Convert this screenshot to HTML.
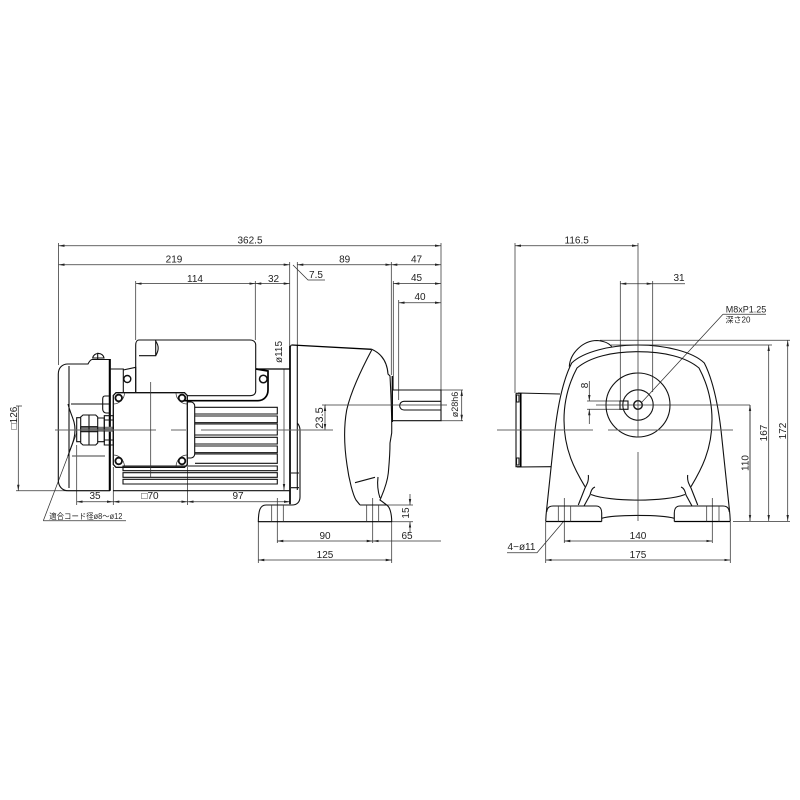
<!DOCTYPE html>
<html><head><meta charset="utf-8">
<style>
html,body{margin:0;padding:0;background:#fff;width:800px;height:800px;overflow:hidden}
svg{display:block}
text{font-family:"Liberation Sans","Noto Sans CJK JP",sans-serif;font-size:10px;fill:#222;text-anchor:middle}
.t{stroke:#111;stroke-width:1.1;fill:none}
.b{stroke:#000;stroke-width:1.7;fill:none}
.d{stroke:#333;stroke-width:.75;fill:none}
.c{stroke:#666;stroke-width:.9;fill:none}
.a{stroke:#333;stroke-width:.75;fill:none;marker-start:url(#ar);marker-end:url(#ar)}
.e{stroke:#333;stroke-width:.75;fill:none;marker-end:url(#ar)}
</style></head><body>
<svg width="800" height="800" viewBox="0 0 800 800" xmlns="http://www.w3.org/2000/svg">
<defs><marker id="ar" markerUnits="userSpaceOnUse" markerWidth="7" markerHeight="4" refX="6" refY="2" orient="auto-start-reverse"><path d="M0 .8L6 2L0 3.2Z" fill="#222"/></marker></defs>

<!-- SIDE VIEW dimensions -->
<path class="a" d="M58.5 245.7H441"/>
<path class="a" d="M58.5 264.7H289.7"/>
<path class="a" d="M297.3 264.7H391.3"/>
<path class="a" d="M391.3 264.7H441"/>
<path class="a" d="M135.7 283.6H255.3"/>
<path class="a" d="M255.3 283.6H289.7"/>
<path class="a" d="M393.3 283.6H441"/>
<path class="a" d="M398.7 302.7H441"/>
<path class="d" d="M58.5 243V365M441 243V390M135.7 281V340M255.3 281V340M289.7 262V369M297.3 262V345M391.3 262V375M393.3 281V390M398.7 300V400"/>
<path class="d" d="M293 265L308 280H325"/>
<text x="174" y="262.500">219</text><text x="250" y="243.500">362.5</text>
<text x="195" y="282">114</text><text x="273.500" y="282">32</text>
<text x="344.700" y="262.500">89</text><text x="416.500" y="262.500">47</text>
<text x="416.500" y="281">45</text><text x="420" y="300">40</text><text x="316" y="278">7.5</text>

<text transform="translate(282 352) rotate(-90)">ø115</text>
<path class="e" d="M284 369V490"/>
<text transform="translate(323 418) rotate(-90)" style="font-size:11px">23.5</text>
<path class="a" d="M325 405V430"/>
<path class="d" d="M322 405H326"/>
<text transform="translate(458 404.500) rotate(-90)" style="font-size:9px">ø28h6</text>
<path class="a" d="M461.700 390V420.700"/>
<path class="d" d="M441 390H463M441 420.700H463"/>
<text transform="translate(17 418) rotate(-90)">□126</text>
<path class="e" d="M18.300 406V490.700"/>
<path class="d" d="M16 406H22M16 490.700H110"/>

<path class="a" d="M76.700 501.700H113"/>
<path class="a" d="M113.300 501.700H187.500"/>
<path class="a" d="M187.500 501.700H290"/>
<path class="d" d="M76.700 445V505M113.300 467V505M187.500 467V505M290 490V505"/>
<text x="95" y="499">35</text><text x="150" y="499">□70</text><text x="238" y="499">97</text>
<path class="d" d="M43.300 520.700L76.700 433M43.300 520.700H126"/>
<text x="85.800" y="519" style="font-size:8px" textLength="73" lengthAdjust="spacingAndGlyphs">適合コード径ø8～ø12</text>

<path class="a" d="M277.300 541H372.700"/>
<path class="a" d="M372.700 541H441" style="marker-end:none"/>
<path class="a" d="M258.300 560H391.700"/>
<path class="d" d="M258.300 521V563M391.700 521V563M277.300 498V543M372.700 498V543"/>
<text x="325" y="539">90</text><text x="407" y="539">65</text><text x="325" y="558">125</text>
<path class="e" d="M410 494V505"/><path class="e" d="M410 533V521.700"/>
<path class="d" d="M386 505H413M392 521.700H413"/>
<text transform="translate(409 513) rotate(-90)">15</text>

<!-- SIDE VIEW motor -->
<path class="t" d="M109.300 359V490.700H68C62 490.700 58.300 486 58.300 480V374C58.300 368 62 364 68 364H88C89 362 90 360 92 359.500H109.300"/>
<path class="t" d="M92.700 358A5.700 5.300 0 0 1 104 358ZM97.700 352.700V359"/>
<path class="b" d="M110 359V490.700"/>
<path class="t" d="M69 366V488M71 404H109M68 404C71 416 75 420 75 430C75 440 71 446 68 456"/>
<path class="c" d="M72 456H105" style="stroke-width:1.300"/>
<path class="t" d="M109 396H105C103.500 396 102.700 397 102.700 399V409C102.700 411 104 413 106 413H109"/>
<path class="t" d="M110 369H123.300V392.700M123.300 370L135.700 367.300V392"/>
<circle class="t" cx="127.300" cy="379" r="3.500" style="stroke-width:1.400"/>
<!-- gland -->
<path d="M80 426.700H113V431.700H80Z" fill="#777"/>
<path class="t" d="M80.700 417.700H76.700V441.700H80.700"/>
<path class="t" d="M83 415H95.700L97.700 417V443L95.700 445H83L80.700 443V417ZM89 415V445M80.700 426.700H97.700M80.700 431.700H97.700"/>
<path class="t" d="M97.700 418H104.300V441.700H97.700"/>
<path class="t" d="M104.300 415.700H113.300V445H104.300ZM104.300 420H113.300M104.300 440H113.300"/>
<!-- terminal box -->
<path class="t" d="M116 392.700H184.500L187.300 395.500V464.500L184.500 467.300H116L113.300 464.500V395.500Z" style="stroke-width:1.300"/>
<path class="d" d="M113.500 404C119 404 124.500 399 124.500 393M187 404C181.500 404 176 399 176 393M113.500 455C119 455 124.500 460 124.500 467M187 455C181.500 455 176 460 176 467"/>
<g fill="#fff" stroke="#111" stroke-width="1.800">
<circle cx="118.700" cy="398" r="3.300"/><circle cx="182" cy="398" r="3.300"/>
<circle cx="118.700" cy="461" r="3.300"/><circle cx="182" cy="461" r="3.300"/>
</g>
<path class="t" d="M187.300 402H191C193 402 194.700 404 194.700 406V454C194.700 456 193 458 191 458H187.300"/>
<!-- top box -->
<path class="t" d="M139 340H250C253.500 340 255.700 342 255.700 345V391C255.700 394 253.500 395.700 250 395.700H187"/>
<path class="t" d="M139 340C137 340 135.700 342 135.700 345V392"/>
<path class="t" d="M139 355.700H155.700V340M155.700 341C159 346 159 350 155.700 355.700"/>
<path class="b" d="M184 400.700H258C264 400.700 268 396 268 390V371L256 369"/>
<circle class="t" cx="263.300" cy="379" r="3.800" style="stroke-width:1.500"/>
<path class="b" d="M256 369H290" style="stroke-width:1.200"/>
<!-- fins -->
<path class="t" d="M195 407.300H277.300V414H195M195 416H277.300V422.700H195M195 424H277.300V435H195M195 437.300H277.300V444H195M195 446H277.300V452.700H195M195 454H277.300V463.300H195"/>
<path class="t" d="M123 466H277.300V470.700H123ZM123 472.700H277.300V477.300H123ZM123 479.300H277.300V484H123Z"/>
<path class="t" d="M113 490.700H289.300"/>
<!-- flange -->
<path class="b" d="M290 346V504"/>
<path class="t" d="M297.300 345V423M297.300 423C299 425 300 427 300 430V497C300 502 297 505 292 505H290M297.300 423V490M291 473H299M291 487.700H299"/>
<!-- gearbox -->
<path class="b" d="M292 345L371.700 349.300" style="stroke-width:1.300"/>
<path class="t" d="M292 345C291 345 290.500 346 290.500 347M371.700 349.300C380 353 387 360 388 374L390 376C391 395 392 415 391.700 433L390 443C390 455 389 465 388.300 473C387 485 382 495 380 500L386.700 505"/>
<path class="t" d="M371.700 350C360 372 350 395 346.700 410C344 425 344 445 347 465C349 480 353 495 356 500L360 505"/>
<path class="t" d="M355 482.700L375 477.300M378 477C377 485 378 492 380 498"/>
<path class="b" d="M392.300 376V422" style="stroke-width:1.300"/>
<path class="t" d="M392.300 390H441V420.700H392.300M404 401.300H441M404 410H441M404 401.300A4.300 4.300 0 0 0 404 410"/>
<!-- base -->
<path class="t" d="M258.300 521.700C258.500 512 259.500 505 266 505H290M360 505H386.700C390 507 391.700 514 391.700 521.700"/>
<path class="b" d="M258.300 521.700H391.700" style="stroke-width:1.200"/>
<path class="d" d="M271.700 505V521.700M283.300 505V521.700M366.700 505V521.700M378.700 505V521.700"/>
<!-- center lines side -->
<path class="c" d="M55 430H156M171 430H186M201 430H333"/>
<path class="d" d="M150.700 382V478M325 405H447"/>

<!-- FRONT VIEW dimensions -->
<path class="a" d="M515 245.700H638"/>
<path class="a" d="M620.300 283.700H652.700"/>
<path class="d" d="M652.700 283.700H685M515 243V393M620.300 281V401M652.700 281V392"/>
<text x="576.700" y="243.500">116.5</text><text x="679" y="281">31</text>
<path class="d" d="M723 314.300H766M723 314.300L642 402"/>
<text x="746" y="312.500" style="font-size:9px">M8xP1.25</text>
<text x="738" y="322.500" style="font-size:8px">深さ20</text>
<path class="d" d="M600 340.300H790M611 345H772"/>
<path class="e" d="M750 405V521"/><path class="e" d="M750 521V405"/>
<path class="a" d="M768.700 345V521"/>
<path class="a" d="M787.700 340.300V521"/>
<path class="d" d="M733 521.500H790"/>
<text transform="translate(748.500 463) rotate(-90)">110</text>
<text transform="translate(767 433) rotate(-90)">167</text>
<text transform="translate(786 431) rotate(-90)">172</text>
<text transform="translate(588 385.500) rotate(-90)">8</text>
<path class="e" d="M589.300 381V401"/><path class="e" d="M589.300 424V409.300"/>
<path class="d" d="M587 401H620M587 409.300H620"/>
<path class="a" d="M564.300 541H712.300"/>
<path class="a" d="M545.700 560H730.300"/>
<path class="d" d="M545.700 522V563M730.300 522V563M564.300 498V543M712.300 498V543"/>
<text x="638" y="539">140</text><text x="638" y="558">175</text>
<path class="d" d="M507 552.700H537L564 521"/>
<text x="521.500" y="550">4−ø11</text>

<!-- FRONT VIEW drawing -->
<path class="t" d="M569.300 366.700C570 353 583 340.500 597 340.500C603 341 609 343 611.700 346.700"/>
<path class="t" d="M545.700 521.500C546 514 546.500 510 547 506L555 430C558 405 563 380 571.700 363C583 352 610 345 638 345C666 345 693 352 704.300 363C713 380 718 405 721 430L729 506C729.500 510 730 514 730.300 521.500"/>
<path class="t" d="M585 486.700C575 470 564 450 564 420C564 400 569 383 577 368C590 357 612 351.700 638 351.700C664 351.700 686 357 699 368C707 383 712 400 712 420C712 450 701 470 691 486.700"/>
<path class="t" d="M588.300 475C589 481 587 484 585 488L578.300 505M687.700 475C687 481 689 484 691 488L697.700 505"/>
<path class="t" d="M595 487C592 488 591 491 590 495L584 506M681 487C684 488 685 491 686 495L692 506"/>
<path class="t" d="M591 494.500C610 502 666 502 685 494.500"/>
<path class="t" d="M601.700 518.300C615 514.500 661 514.500 674.300 518.300"/>
<path class="b" d="M545.700 521.500H601.700M674.300 521.500H730.300" style="stroke-width:1.300"/>
<path class="t" d="M546.700 512C547 508 549 506 553 506H596C600 506 601.700 509 601.700 513V521.500M729.300 512C729 508 727 506 723 506H680C676 506 674.300 509 674.300 513V521.500"/>
<path class="d" d="M558.300 506V521.500M570.700 506V521.500M706.700 506V521.500M719 506V521.500"/>
<!-- terminal side -->
<path class="t" d="M516 393.300H521M516 393.300V466.700H521M518 393L560 394M517 467L551 466.700"/>
<path class="b" d="M520.700 393.300V466.700"/>
<path class="t" d="M516.500 395V402H519V395ZM516.500 458V465H519V458Z"/>
<!-- circles -->
<circle class="t" cx="638" cy="405" r="32"/>
<circle class="t" cx="638" cy="405" r="15.200"/>
<circle class="t" cx="638" cy="405" r="4.300" style="stroke-width:1.400"/>
<rect class="t" x="620" y="401" width="8" height="8.300" fill="#fff"/>
<path class="c" d="M497 430H593M608 430H733"/>
<path class="d" d="M596 405H750M638 243V437M638 452V521"/>
</svg>
</body></html>
